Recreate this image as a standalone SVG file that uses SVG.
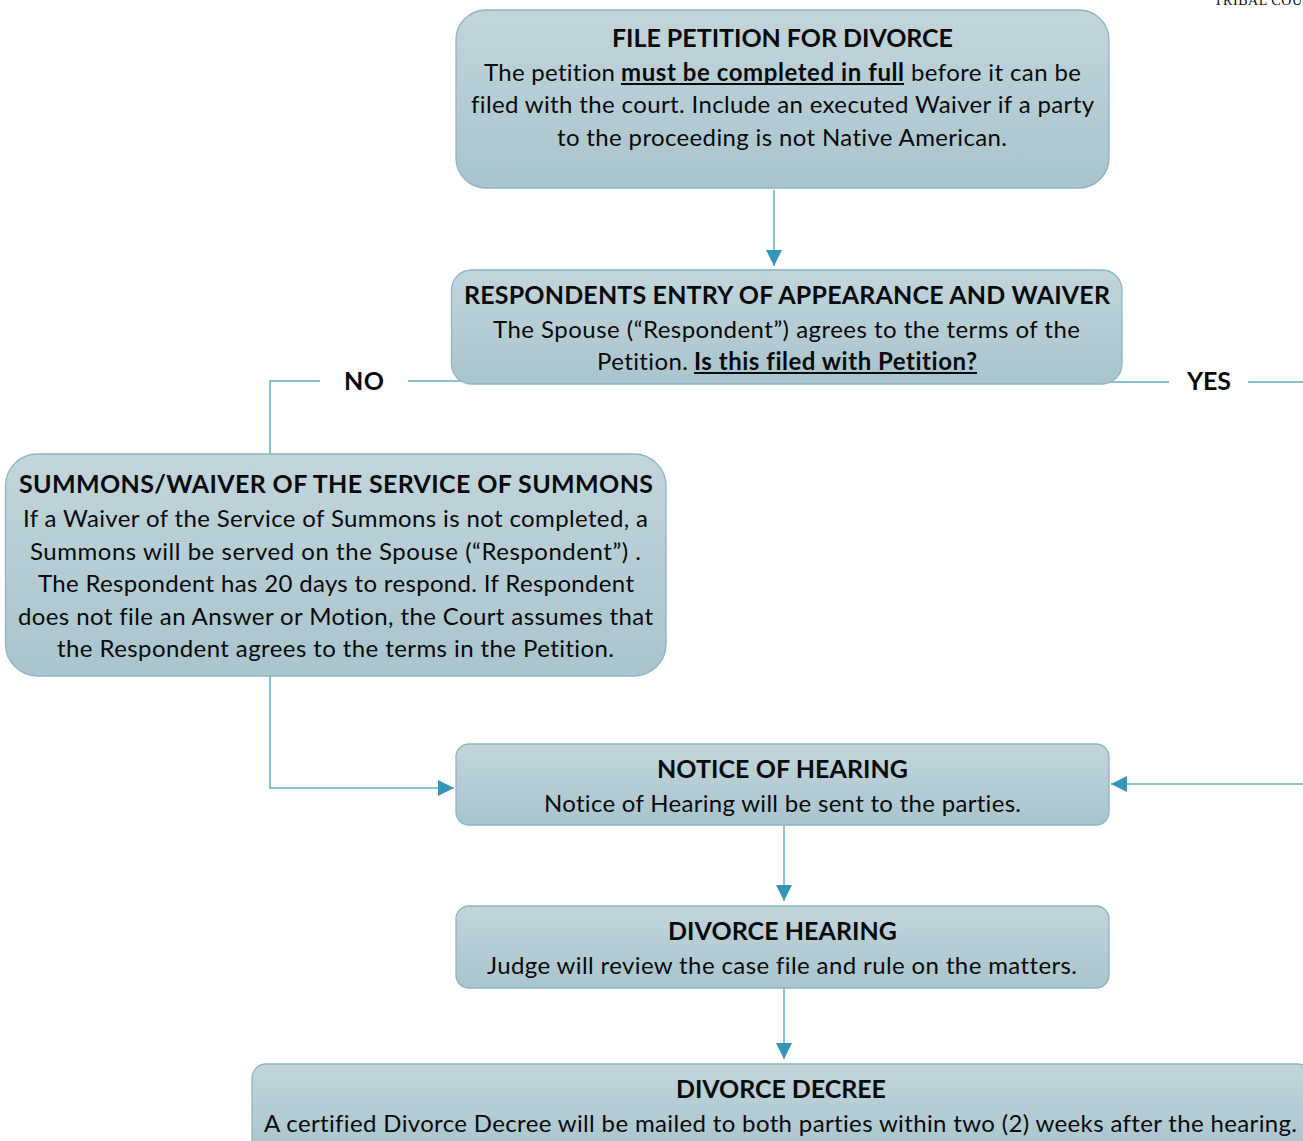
<svg xmlns="http://www.w3.org/2000/svg" width="1303" height="1141" viewBox="0 0 1303 1141">
<defs>
<linearGradient id="g" x1="0" y1="0" x2="0" y2="1"><stop offset="0" stop-color="#C2D5DB"/><stop offset="1" stop-color="#A9C4CD"/></linearGradient>
<marker id="a" markerUnits="userSpaceOnUse" markerWidth="16" markerHeight="16" refX="16" refY="8" orient="auto"><path d="M0 0L16 8L0 16Z" fill="#3494BA"/></marker>
</defs>
<style>
text{font-family:Lato,"Liberation Sans",sans-serif;font-size:24px;fill:#0a0a0a;font-variant-ligatures:none}
.t{font-weight:700;font-size:25px}
.u{font-weight:700}
.ul{fill:#0a0a0a}
.box{fill:url(#g);stroke:#8DB4C0;stroke-width:1.3}
.c{fill:none;stroke:#64ABC8;stroke-width:1.5}
.h{marker-end:url(#a)}
.lab{font-weight:700;font-size:25px}
</style>
<rect width="1303" height="1141" fill="#fff"/>
<text x="1214" y="5" style="font-family:'Liberation Serif',serif;font-size:14px" textLength="88">TRIBAL COU</text>
<g id="connectors">
<path class="c h" d="M774 190V266"/>
<path class="c" d="M408 381H462M320 381H270V454"/>
<path class="c" d="M1110 382H1169M1248 382H1303"/>
<path class="c h" d="M270 676V788H454"/>
<path class="c h" d="M1303 784H1111"/>
<path class="c h" d="M784 825V901"/>
<path class="c h" d="M784 988V1059"/>
</g>
<g id="n1"><rect class="box" x="456" y="10" width="653" height="178" rx="30"/>
<text class="t" x="612" y="47" textLength="341">FILE PETITION FOR DIVORCE</text>
<text x="484" y="81" textLength="131">The petition</text><text class="u" x="621" y="81" textLength="283">must be completed in full</text><rect class="ul" x="621" y="83" width="283" height="2"/><text x="911" y="81" textLength="170">before it can be</text>
<text x="471" y="113" textLength="623">filed with the court. Include an executed Waiver if a party</text>
<text x="557" y="146" textLength="450">to the proceeding is not Native American.</text></g>
<g id="n2"><rect class="box" x="451.500" y="270" width="670.500" height="114" rx="20"/>
<text class="t" x="464" y="304" textLength="646">RESPONDENTS ENTRY OF APPEARANCE AND WAIVER</text>
<text x="493" y="338" textLength="587">The Spouse (“Respondent”) agrees to the terms of the</text>
<text x="597" y="370" textLength="91">Petition.</text><text class="u" x="694" y="370" textLength="283">Is this filed with Petition?</text><rect class="ul" x="694" y="372" width="283" height="2"/></g>
<g id="n3"><rect class="box" x="5.500" y="454" width="660.500" height="222" rx="32"/>
<text class="t" x="19" y="493" textLength="634">SUMMONS/WAIVER OF THE SERVICE OF SUMMONS</text>
<text x="23" y="527" textLength="625">If a Waiver of the Service of Summons is not completed, a</text>
<text x="30" y="560" textLength="611">Summons will be served on the Spouse (“Respondent”) .</text>
<text x="38" y="592" textLength="596">The Respondent has 20 days to respond. If Respondent</text>
<text x="18" y="625" textLength="635">does not file an Answer or Motion, the Court assumes that</text>
<text x="57" y="657" textLength="557">the Respondent agrees to the terms in the Petition.</text></g>
<g id="n4"><rect class="box" x="456" y="744" width="653" height="81" rx="13"/>
<text class="t" x="657" y="778" textLength="251">NOTICE OF HEARING</text>
<text x="544" y="812" textLength="477">Notice of Hearing will be sent to the parties.</text></g>
<g id="n5"><rect class="box" x="456" y="906" width="653" height="82" rx="13"/>
<text class="t" x="668" y="940" textLength="229">DIVORCE HEARING</text>
<text x="487" y="974" textLength="590">Judge will review the case file and rule on the matters.</text></g>
<g id="n6"><rect class="box" x="252" y="1064" width="1060" height="90" rx="14"/>
<text class="t" x="676" y="1098" textLength="210">DIVORCE DECREE</text>
<text x="264" y="1132" textLength="1033">A certified Divorce Decree will be mailed to both parties within two (2) weeks after the hearing.</text></g>
<text class="lab" x="344" y="390" textLength="40">NO</text>
<text class="lab" x="1187" y="390" textLength="44">YES</text>
</svg>
